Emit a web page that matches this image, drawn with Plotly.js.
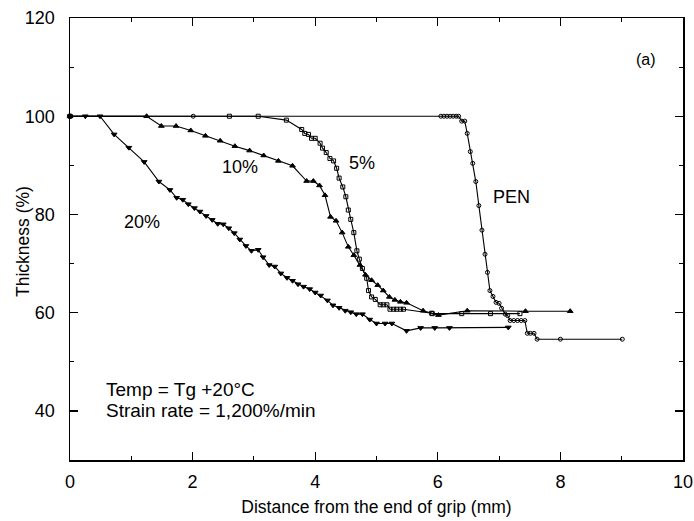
<!DOCTYPE html>
<html>
<head>
<meta charset="utf-8">
<script src="https://cdn.plot.ly/plotly-3.0.1.min.js"></script>
<style>html,body{margin:0;padding:0;background:#fff;}#chart{width:694px;height:521px;}</style>
</head>
<body>
<div id="chart"></div>
<script>
// 20% strain series (filled down triangles)
const x20 = [0, 0.25, 0.49, 0.72, 0.96, 1.21, 1.45, 1.63, 1.74, 1.84, 1.93, 2.03, 2.12, 2.22, 2.32, 2.41, 2.50, 2.59, 2.68, 2.77, 2.87, 2.96, 3.07, 3.15, 3.25, 3.34, 3.44, 3.54, 3.63, 3.72, 3.81, 3.91, 4.00, 4.09, 4.20, 4.29, 4.39, 4.49, 4.58, 4.67, 4.77, 4.89, 5.00, 5.14, 5.25, 5.49, 5.72, 5.95, 6.19, 7.15];
const y20 = [100, 100, 100, 96.3, 93.6, 90.7, 86.7, 85.0, 83.4, 83.0, 82.1, 81.3, 80.6, 79.7, 78.9, 78.1, 78.0, 77.2, 76.2, 74.9, 73.6, 72.6, 72.8, 71.3, 69.7, 69.4, 68.0, 67.1, 66.5, 65.8, 65.3, 64.8, 64.1, 63.5, 62.5, 61.5, 61.0, 60.4, 60.1, 59.7, 59.7, 58.6, 57.8, 57.8, 57.8, 56.3, 56.9, 56.9, 56.9, 57.0];

// 10% strain series (filled up triangles)
const x10 = [0, 1.25, 1.49, 1.73, 1.97, 2.21, 2.45, 2.69, 2.93, 3.16, 3.40, 3.63, 3.86, 3.97, 4.07, 4.16, 4.25, 4.34, 4.44, 4.54, 4.63, 4.73, 4.82, 4.92, 5.02, 5.11, 5.21, 5.30, 5.39, 5.49, 5.76, 6.01, 6.48, 7.43, 8.16];
const y10 = [100, 100, 98.0, 98.0, 97.1, 96.0, 95.0, 93.9, 93.0, 92.0, 90.9, 89.9, 86.8, 86.8, 85.9, 83.9, 79.5, 78.7, 76.3, 73.4, 71.7, 69.7, 67.7, 66.6, 65.6, 64.5, 63.2, 62.6, 62.2, 62.0, 60.4, 59.5, 60.4, 60.3, 60.3];

// 5% strain series (open squares)
const x5 = [0, 2.60, 3.07, 3.53, 3.78, 3.83, 3.89, 3.94, 4.00, 4.08, 4.12, 4.18, 4.24, 4.30, 4.35, 4.39, 4.45, 4.50, 4.54, 4.58, 4.63, 4.68, 4.72, 4.77, 4.84, 4.87, 4.92, 4.98, 5.06, 5.11, 5.17, 5.22, 5.28, 5.33, 5.39, 5.44, 5.90, 5.91, 6.39, 6.86, 7.34];
const y5 = [100, 100, 100, 99.2, 97.3, 96.5, 96.3, 95.5, 95.5, 94.5, 93.5, 92.6, 91.4, 90.9, 89.4, 87.4, 85.6, 83.6, 80.9, 79.0, 76.3, 72.6, 70.9, 69.0, 67.0, 64.5, 63.2, 62.7, 61.6, 61.6, 61.6, 60.7, 60.7, 60.7, 60.7, 60.7, 59.9, 59.8, 59.8, 59.8, 59.8];

// PEN series (open circles)
const xPEN = [0, 2.01, 6.05, 6.10, 6.15, 6.20, 6.25, 6.30, 6.34, 6.39, 6.44, 6.48, 6.53, 6.57, 6.62, 6.67, 6.72, 6.77, 6.81, 6.85, 6.90, 6.95, 7.00, 7.04, 7.10, 7.14, 7.18, 7.24, 7.30, 7.36, 7.42, 7.46, 7.51, 7.57, 7.62, 8.00, 9.01];
const yPEN = [100, 100, 100, 100, 100, 100, 100, 100, 100, 99.0, 99.0, 96.5, 92.8, 90.4, 86.7, 81.8, 76.8, 71.9, 68.2, 64.5, 63.3, 62.1, 61.9, 60.9, 59.7, 59.4, 58.4, 58.4, 58.4, 58.4, 58.4, 55.8, 55.8, 55.8, 54.6, 54.6, 54.6];

const xTicks = [0, 2, 4, 6, 8, 10];
const yTicks = [40, 60, 80, 100, 120];

const FONT = 'Liberation Sans, Arial, Helvetica, sans-serif';
const lineStyle = {color: '#000', width: 1.1};

function series(x, y, name, symbol, size) {
  return {
    x: x, y: y, name: name, type: 'scatter', mode: 'lines+markers',
    line: lineStyle,
    marker: {symbol: symbol, size: size, color: '#000', line: {color: '#000', width: 1}},
    showlegend: false, cliponaxis: false
  };
}

const data = [
  series(xPEN, yPEN, 'PEN', 'circle-open', 4),
  series(x5, y5, '5%', 'square-open', 4),
  series(x10, y10, '10%', 'triangle-up', 5),
  series(x20, y20, '20%', 'triangle-down', 5)
];

const axisCommon = {
  showline: true, linecolor: '#000', linewidth: 1.5, mirror: 'allticks',
  ticks: 'inside', ticklen: 8, tickwidth: 1.3, tickcolor: '#000',
  showgrid: false, zeroline: false,
  tickfont: {family: FONT, size: 18, color: '#000'}
};

const layout = {
  width: 694, height: 521,
  margin: {l: 70, r: 11, t: 18, b: 61},
  paper_bgcolor: '#fff', plot_bgcolor: '#fff',
  font: {family: FONT, color: '#000'},
  xaxis: Object.assign({}, axisCommon, {
    range: [0, 10], tickvals: xTicks, ticktext: xTicks.map(String),
    ticklabelstandoff: 5,
    minor: {dtick: 1, tick0: 0, ticks: 'inside', ticklen: 4, tickwidth: 1, tickcolor: '#000'},
    title: {text: 'Distance from the end of grip (mm)', font: {family: FONT, size: 17.5, color: '#000'}, standoff: 9}
  }),
  yaxis: Object.assign({}, axisCommon, {
    range: [30, 120], tickvals: yTicks, ticktext: yTicks.map(String),
    ticklabelstandoff: 10,
    minor: {dtick: 10, tick0: 0, ticks: 'inside', ticklen: 4, tickwidth: 1, tickcolor: '#000'}
  }),
  annotations: [
    {xref: 'paper', yref: 'paper', x: -0.077, y: 0.495, xanchor: 'center', yanchor: 'middle', textangle: -90,
     text: 'Thickness (%)', showarrow: false, font: {family: FONT, size: 17.5}},
    {x: 9.4, y: 111.5, text: '(a)', showarrow: false, font: {family: FONT, size: 16}},
    {x: 4.77, y: 90.5, text: '5%', showarrow: false, font: {family: FONT, size: 18}},
    {x: 2.77, y: 89.6, text: '10%', showarrow: false, font: {family: FONT, size: 18}},
    {x: 1.17, y: 78.5, text: '20%', showarrow: false, font: {family: FONT, size: 18}},
    {x: 7.2, y: 83.5, text: 'PEN', showarrow: false, font: {family: FONT, size: 18}},
    {x: 0.55, y: 44.4, xanchor: 'left', text: 'Temp = Tg +20°C', showarrow: false, font: {family: FONT, size: 19}},
    {x: 0.55, y: 40.0, xanchor: 'left', text: 'Strain rate = 1,200%/min', showarrow: false, font: {family: FONT, size: 19}}
  ]
};

Plotly.newPlot('chart', data, layout, {displayModeBar: false, staticPlot: true});
</script>
</body>
</html>
